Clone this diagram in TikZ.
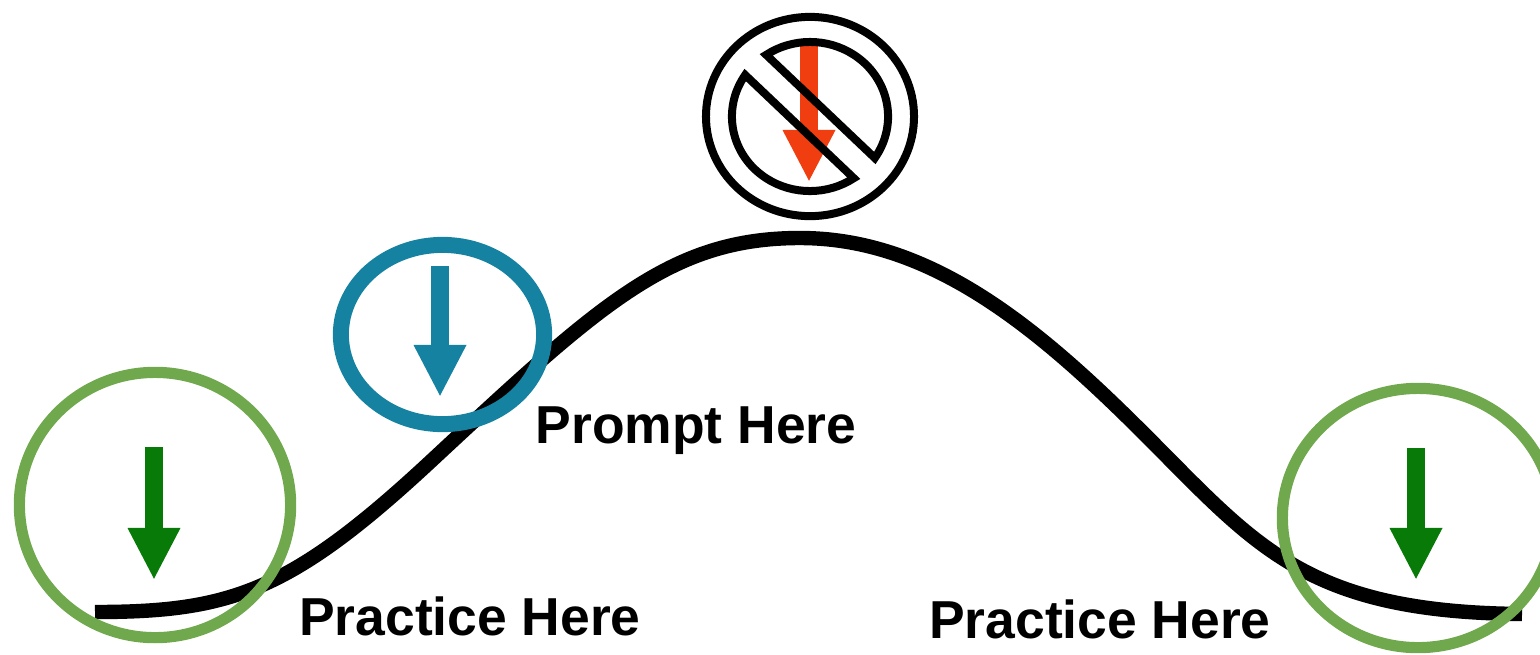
\documentclass[tikz,border=0pt]{standalone}
\usepackage{fontspec}
\setmainfont{Liberation Sans}
\usetikzlibrary{arrows.meta,shapes.geometric}
\definecolor{ringgreen}{RGB}{112,168,77}
\definecolor{arrowgreen}{RGB}{8,122,8}
\definecolor{promptblue}{RGB}{20,130,160}
\definecolor{stopred}{RGB}{240,62,16}
\tikzset{
  ring/.style={draw, ellipse, fill=none, inner sep=0pt, line width=#1},
  downarrow/.style={-{Triangle[length=1.3cm,width=1.22cm]}, line width=0.45cm},
  notelabel/.style={font=\bfseries\fontsize{38}{38}\selectfont, inner sep=0pt, anchor=center}
}
\begin{document}
\begin{tikzpicture}[x=0.025cm,y=-0.025cm]
\useasboundingbox (0,0) rectangle (1540,654);
% Curve
\coordinate (curvestart) at (95,612);
\coordinate (curveend) at (1522,614);
\coordinate (curvetop) at (800,238);
\draw[line width=0.36cm] (curvestart) .. controls (230,612) and (290,592) .. (430,462)
  .. controls (600,304) and (670,238) .. (curvetop)
  .. controls (920,238) and (1020,313) .. (1120,410)
  .. controls (1250,536) and (1290,612) .. (curveend);

% Left practice point
\node[ring=0.28cm, ringgreen, minimum width=6.78cm, minimum height=6.63cm] (leftring) at (155,505) {};
\coordinate (lefttop) at (154,447);
\coordinate (lefttip) at (154,580);
\draw[downarrow, arrowgreen] (lefttop) -- (lefttip);
\node[notelabel] (leftlabel) at (470,616) {Practice Here};

% Prompt point
\node[ring=0.4cm, promptblue, minimum width=5.08cm, minimum height=4.48cm] (promptring) at (442.5,334.5) {};
\coordinate (prompttop) at (440,266);
\coordinate (prompttip) at (440,397);
\draw[downarrow, promptblue] (prompttop) -- (prompttip);
\node[notelabel] (promptlabel) at (696,431) {Prompt Here};

% No prompt at the top
\coordinate (stoptop) at (809,45);
\coordinate (stoptip) at (809,182);
\draw[downarrow, stopred] (stoptop) -- (stoptip);
\node[ring=0.2cm, black, minimum width=5.2cm, minimum height=4.98cm] (stopring) at (810,116.5) {};
\draw[line width=0.2cm, line join=miter] (874.8,158) arc[start angle=33.9, end angle=-124.2, x radius=78, y radius=74.5] -- cycle;
\draw[line width=0.2cm, line join=miter] (745.2,75) arc[start angle=213.9, end angle=55.8, x radius=78, y radius=74.5] -- cycle;

% Right practice point
\node[ring=0.28cm, ringgreen, minimum width=6.78cm, minimum height=6.48cm] (rightring) at (1418,518) {};
\coordinate (righttop) at (1416,448);
\coordinate (righttip) at (1416,580);
\draw[downarrow, arrowgreen] (righttop) -- (righttip);
\node[notelabel] (rightlabel) at (1100,619) {Practice Here};
\end{tikzpicture}
\end{document}
